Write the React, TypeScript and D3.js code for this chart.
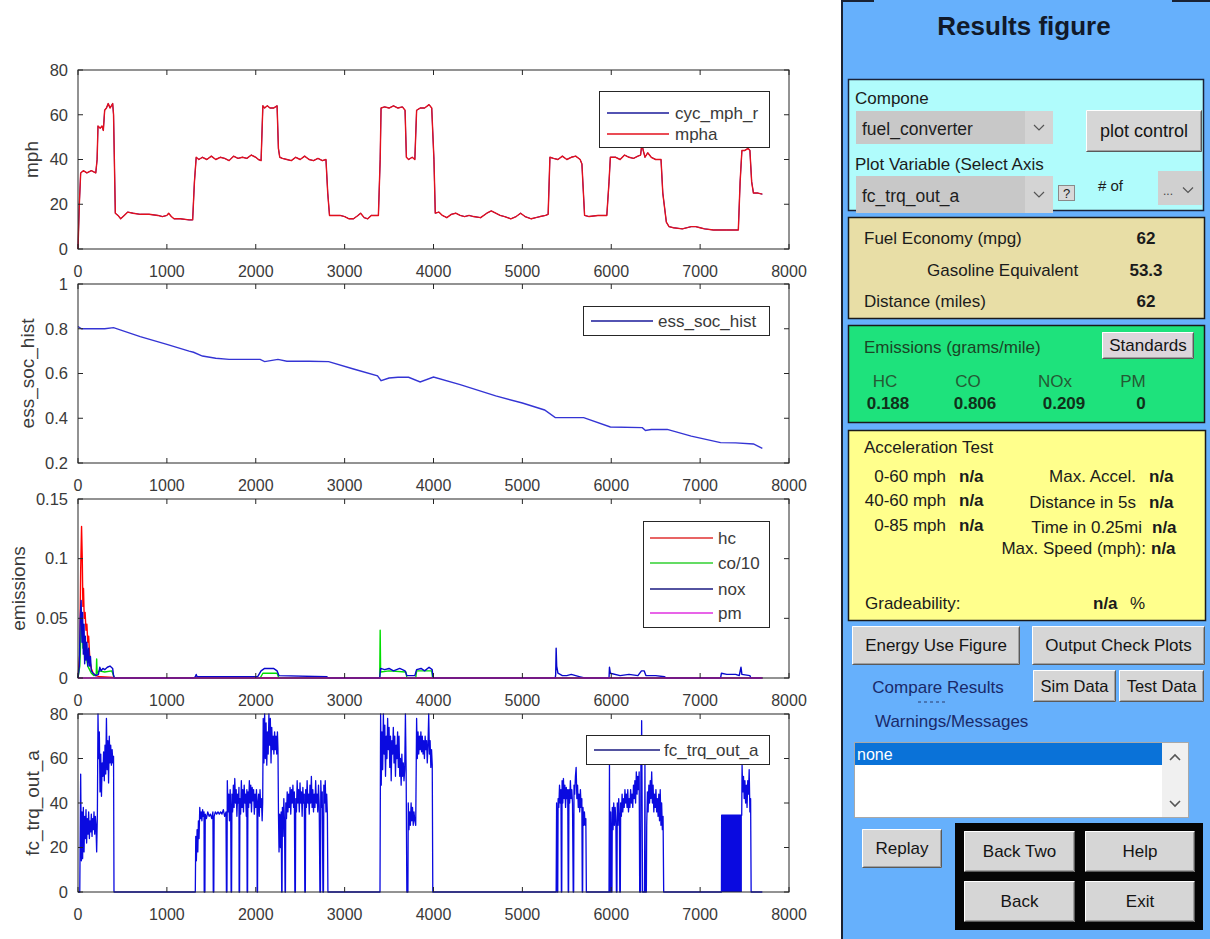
import React from "react";
import * as d3 from "d3";

type Pt = [number, number];

// ---------- tick values ----------
const xTickValues = [0, 1000, 2000, 3000, 4000, 5000, 6000, 7000, 8000];
const mphTicks = [0, 20, 40, 60, 80];
const socTicks = [0.2, 0.4, 0.6, 0.8, 1];
const emisTicks = [0, 0.05, 0.1, 0.15];
const trqTicks = [0, 20, 40, 60, 80];

// ---------- series (time s, value) ----------
const mpha: Pt[] = [
  [0,0],[15,20],[30,34],[60,35],[100,34],[150,35],[200,34],[215,40],[225,55],[250,54],[270,55],[285,53],[300,62],[320,63],[340,65],[360,63],[390,65],[400,60],[420,16],[450,15],[480,13.5],[520,15],[560,16.5],[620,16],[700,15.5],[800,15.5],[900,15],[950,14.5],[1000,15],[1020,16],[1050,14.5],[1080,13.5],[1150,13.5],[1250,13],[1290,13],[1310,30],[1330,41],[1360,40],[1400,41],[1450,40],[1500,41.5],[1550,40],[1600,41],[1650,40.5],[1700,39.5],[1750,41.5],[1800,40.5],[1850,41],[1900,40.5],[1950,42],[2000,41],[2030,40],[2060,39.5],[2080,64],[2100,63],[2130,64],[2160,63],[2200,63],[2240,64],[2255,45],[2270,41],[2300,40.5],[2350,40],[2400,39.5],[2450,41],[2500,40],[2550,41.5],[2600,40],[2650,39.5],[2700,40.5],[2750,39.5],[2790,40],[2810,25],[2830,15],[2900,15],[2950,15],[3000,14.5],[3050,13.5],[3100,13.5],[3150,15],[3180,16],[3220,14],[3260,13.5],[3300,15],[3380,15],[3400,40],[3410,63],[3450,63.5],[3500,63],[3550,64],[3600,63],[3650,63.5],[3680,62],[3695,41],[3720,40],[3760,41],[3790,40],[3810,62],[3850,63],[3900,63],[3950,64.5],[3980,63],[4005,40],[4020,16],[4060,16.5],[4100,15],[4150,14],[4200,15.5],[4250,16],[4300,15],[4350,14.5],[4400,15],[4450,14.5],[4530,14],[4600,16],[4650,17],[4700,16],[4750,15],[4800,14.5],[4870,13.5],[4930,14.5],[4980,16],[5030,14.5],[5100,13.5],[5150,14],[5200,14.5],[5260,15],[5290,15.5],[5310,41],[5350,40.5],[5400,40],[5450,41.5],[5500,40],[5550,41],[5600,41.5],[5650,40],[5670,38],[5700,15],[5750,14.5],[5850,15],[5950,15],[5975,30],[5990,41],[6050,41],[6100,40],[6150,42],[6200,41],[6250,40.5],[6300,41.5],[6330,42],[6345,47],[6360,44],[6380,41],[6410,43],[6450,41],[6500,40],[6560,40],[6580,25],[6620,12],[6650,10],[6700,9.5],[6800,9],[6900,10],[6950,10],[7000,9.5],[7050,9],[7150,8.5],[7300,8.5],[7430,8.5],[7450,30],[7470,44],[7500,44],[7540,45],[7560,44],[7580,30],[7600,25],[7650,25],[7700,24.5]
];
// the requested cycle speed coincides with the achieved speed in the picture
const cycMphR: Pt[] = mpha;

const essSocHist: Pt[] = [
  [0,0.81],[40,0.80],[200,0.80],[300,0.80],[400,0.805],[700,0.765],[1000,0.73],[1250,0.70],[1300,0.695],[1400,0.678],[1550,0.668],[1700,0.663],[2050,0.663],[2100,0.653],[2200,0.66],[2250,0.663],[2350,0.655],[2600,0.655],[2820,0.653],[3100,0.62],[3370,0.59],[3410,0.568],[3500,0.58],[3600,0.583],[3720,0.583],[3850,0.562],[4000,0.584],[4300,0.55],[4700,0.5],[5000,0.468],[5250,0.437],[5370,0.403],[5690,0.403],[5990,0.361],[6350,0.358],[6385,0.345],[6450,0.35],[6630,0.35],[6900,0.32],[7230,0.291],[7400,0.29],[7600,0.285],[7700,0.265]
];

const hc: Pt[] = [
  [0,0],[20,0.02],[30,0.09],[40,0.127],[48,0.1],[55,0.06],[62,0.075],[70,0.05],[80,0.055],[90,0.04],[100,0.045],[110,0.03],[120,0.035],[130,0.02],[140,0.012],[150,0.008],[170,0.004],[200,0.002],[250,0.001],[400,0.0005],[420,0],[7700,0]
];
const co10: Pt[] = [
  [0,0],[20,0.01],[35,0.04],[45,0.05],[55,0.025],[65,0.035],[75,0.015],[90,0.02],[110,0.01],[130,0.007],[150,0.004],[180,0.002],[205,0.003],[210,0.016],[215,0.004],[240,0.006],[300,0.005],[380,0.006],[410,0],[2050,0],[2080,0.004],[2240,0.004],[2260,0],[3395,0],[3400,0.04],[3405,0.005],[3500,0.006],[3690,0.005],[3700,0],[3800,0],[3810,0.006],[3980,0.006],[3990,0],[7700,0]
];
const nox: Pt[] = [
  [0,0],[15,0.01],[25,0.05],[35,0.065],[45,0.03],[52,0.055],[60,0.02],[68,0.045],[75,0.012],[82,0.035],[90,0.015],[100,0.03],[110,0.01],[120,0.025],[130,0.01],[140,0.018],[150,0.006],[170,0.004],[200,0.002],[230,0.003],[245,0.009],[260,0.006],[280,0.008],[300,0.007],[330,0.009],[360,0.01],[390,0.008],[400,0.002],[410,0],[1300,0],[1320,0.001],[1330,0.003],[1340,0.001],[2020,0.001],[2060,0.006],[2100,0.008],[2200,0.008],[2240,0.006],[2260,0.002],[2800,0.001],[2820,0],[3395,0],[3405,0.008],[3450,0.007],[3500,0.008],[3550,0.006],[3620,0.008],[3680,0.006],[3700,0.002],[3790,0.002],[3810,0.007],[3860,0.008],[3900,0.006],[3950,0.009],[3985,0.007],[3995,0],[5370,0],[5375,0.003],[5380,0.025],[5386,0.01],[5400,0.004],[5450,0.002],[5500,0.002],[5550,0.003],[5650,0.001],[5700,0],[5975,0],[5980,0.009],[5990,0.004],[6100,0.002],[6200,0.003],[6300,0.002],[6340,0.006],[6370,0.006],[6390,0.002],[6500,0.002],[6600,0.001],[6620,0],[7230,0],[7240,0.004],[7300,0.003],[7400,0.003],[7440,0.002],[7460,0.009],[7470,0.003],[7560,0.002],[7570,0],[7700,0]
];
const pm: Pt[] = [[0,0],[7700,0]];

const fcTrqOutA: Pt[] = [
  [0,0],[20,0],[30,53],[38,14],[45,36],[52,15],[60,38],[68,18],[75,34],[82,24],[90,37],[97,22],[105,33],[112,26],[120,36],[128,24],[135,32],[142,27],[150,35],[158,25],[165,33],[172,28],[180,36],[188,26],[195,34],[202,30],[210,18],[218,35],[225,80],[232,60],[240,72],[248,45],[256,62],[264,43],[272,58],[280,52],[288,63],[296,50],[304,66],[312,53],[320,78],[328,55],[336,68],[344,49],[352,70],[360,58],[368,66],[376,57],[384,64],[392,58],[400,61],[405,0],[1320,0],
  [1325,25],[1332,14],[1340,28],[1348,18],[1355,32],[1362,24],[1370,38],[1378,33],[1386,36],[1394,32],[1402,37],[1410,34],[1418,36],[1420,0],[1428,0],[1432,35],[1445,33],[1460,36],[1475,34],[1490,35],[1505,33],[1518,36],[1522,0],[1528,0],[1532,34],[1545,36],[1560,35],[1575,36],[1590,35],[1605,36],[1620,35],[1635,37],[1650,34],[1665,36],[1670,0],[1676,0],[1680,50],[1688,36],[1696,44],[1704,32],[1712,46],[1718,38],[1723,0],[1728,0],[1732,44],[1740,36],[1748,48],[1756,38],[1764,51],[1772,40],[1780,46],[1788,34],[1796,44],[1804,40],[1811,47],[1813,0],[1818,0],[1822,42],[1830,35],[1838,50],[1846,38],[1854,46],[1862,36],[1870,48],[1878,40],[1886,44],[1894,34],[1900,46],[1903,0],[1908,0],[1912,45],[1920,38],[1928,50],[1936,40],[1944,48],[1952,36],[1960,47],[1968,41],[1976,46],[1984,35],[1992,44],[2000,38],[2008,46],[2014,40],[2016,0],[2020,0],[2024,38],[2032,44],[2040,34],[2048,46],[2056,38],[2064,42],[2072,32],[2078,40],[2084,78],[2092,58],[2100,80],[2108,60],[2116,76],[2124,57],[2132,72],[2140,62],[2148,80],[2156,66],[2164,78],[2172,58],[2180,74],[2188,64],[2196,70],[2204,62],[2212,72],[2220,64],[2228,70],[2236,62],[2244,72],[2250,64],[2256,34],[2262,18],[2270,35],[2278,20],[2286,36],[2292,0],[2296,0],[2300,38],[2308,25],[2316,42],[2324,30],[2330,0],[2334,0],[2338,40],[2346,33],[2354,45],[2362,36],[2370,44],[2378,38],[2386,47],[2394,35],[2402,46],[2410,40],[2418,48],[2426,38],[2434,45],[2440,0],[2446,0],[2450,42],[2458,36],[2466,50],[2474,40],[2482,46],[2490,36],[2498,49],[2506,40],[2514,45],[2522,34],[2530,47],[2538,40],[2546,44],[2552,0],[2558,0],[2562,46],[2570,38],[2578,50],[2586,40],[2594,44],[2602,35],[2610,48],[2618,40],[2626,52],[2634,38],[2642,46],[2650,36],[2658,44],[2666,38],[2674,50],[2682,40],[2690,44],[2698,36],[2706,48],[2714,39],[2722,0],[2728,0],[2732,50],[2740,38],[2748,45],[2756,0],[2762,0],[2766,48],[2774,40],[2782,50],[2790,36],[2798,44],[2806,35],[2812,0],[3398,0],
  [3405,80],[3412,48],[3420,72],[3428,55],[3436,80],[3444,62],[3452,75],[3460,52],[3468,70],[3476,60],[3484,78],[3492,64],[3500,74],[3508,56],[3516,70],[3524,50],[3532,68],[3540,62],[3548,74],[3556,58],[3564,70],[3572,52],[3580,66],[3588,60],[3596,72],[3604,56],[3612,70],[3620,52],[3628,60],[3636,48],[3644,62],[3652,52],[3660,58],[3668,50],[3676,55],[3684,80],[3692,55],[3700,0],[3712,0],[3716,40],[3724,28],[3732,36],[3740,30],[3748,40],[3756,32],[3764,38],[3772,30],[3780,36],[3790,32],[3800,30],[3810,78],[3818,60],[3826,72],[3834,62],[3842,70],[3850,64],[3858,72],[3866,63],[3874,70],[3882,62],[3890,68],[3898,60],[3906,70],[3914,64],[3922,68],[3930,58],[3938,66],[3946,80],[3954,62],[3962,68],[3970,56],[3978,64],[3986,57],[3992,0],[5380,0],
  [5385,40],[5392,30],[5394,0],[5398,0],[5402,42],[5410,38],[5418,48],[5426,40],[5434,46],[5439,0],[5443,0],[5447,50],[5455,40],[5462,51],[5470,42],[5478,48],[5486,38],[5494,47],[5502,42],[5510,46],[5516,0],[5520,0],[5524,46],[5532,40],[5540,50],[5548,42],[5556,46],[5564,40],[5572,0],[5577,0],[5581,48],[5589,44],[5597,52],[5605,56],[5613,42],[5621,48],[5629,38],[5637,44],[5645,36],[5653,46],[5661,38],[5669,42],[5674,0],[5678,0],[5682,38],[5690,30],[5698,36],[5706,30],[5714,33],[5720,0],[5975,0],
  [5980,57],[5984,0],[5990,0],[5994,36],[5998,28],[6002,0],[6008,0],[6012,38],[6020,28],[6028,40],[6036,30],[6044,38],[6052,32],[6058,0],[6064,0],[6068,40],[6076,30],[6084,42],[6092,34],[6096,0],[6102,0],[6106,40],[6114,34],[6122,44],[6130,36],[6138,42],[6146,38],[6154,46],[6162,40],[6170,44],[6178,38],[6186,46],[6194,36],[6202,42],[6210,38],[6218,46],[6226,40],[6234,44],[6242,38],[6250,48],[6258,42],[6266,50],[6274,40],[6282,54],[6290,44],[6298,52],[6306,46],[6314,54],[6320,0],[6330,0],[6334,60],[6338,44],[6342,77],[6346,50],[6352,0],[6375,0],[6379,60],[6383,0],[6395,0],[6399,30],[6407,45],[6415,36],[6423,48],[6431,40],[6439,50],[6447,42],[6455,54],[6463,40],[6471,48],[6479,36],[6487,44],[6495,38],[6503,46],[6511,36],[6519,42],[6527,34],[6535,44],[6543,32],[6551,46],[6559,30],[6567,40],[6575,28],[6583,34],[6590,0],[7240,0],
  [7242,34.5],[7468,34.5],[7472,57],[7480,45],[7488,52],[7496,42],[7504,50],[7512,40],[7520,48],[7528,38],[7536,50],[7544,44],[7552,55],[7560,36],[7568,42],[7574,0],[7700,0]
];
// fast on/off chatter of the torque signal (drawn as a filled band)
const fcTrqChatter: Pt[] = [[7240,34.5],[7470,34.5]];

// ---------- layout ----------
const FONT = "'Liberation Sans', Arial, Helvetica, sans-serif";
const X0 = 78, X1 = 789;
const x = d3.scaleLinear().domain([0, 8000]).range([X0, X1]);
const TXT = "#3a3a3a";
const AX = "#262626";
const PF = 17; // panel font size

type Entry = { label: string; color: string };

function Axes(props: {
  top: number; bottom: number; domain: [number, number]; ticks: number[];
  label: string; labelX: number; children: (y: d3.ScaleLinear<number, number>) => React.ReactNode;
  legend: { x0: number; x1: number; y0: number; y1: number; lx0: number; lx1: number; tx: number; rows: number[]; entries: Entry[] };
}) {
  const { top, bottom, domain, ticks, label, labelX, children, legend } = props;
  const y = d3.scaleLinear().domain(domain).range([bottom, top]);
  const tl = 5;
  return (
    <g>
      <rect x={X0} y={top} width={X1 - X0} height={bottom - top} fill="#fff" />
      {children(y)}
      <rect x={X0} y={top} width={X1 - X0} height={bottom - top} fill="none" stroke={AX} strokeWidth={1} />
      {xTickValues.map((v) => (
        <g key={"x" + v}>
          <line x1={x(v)} x2={x(v)} y1={bottom} y2={bottom - tl} stroke={AX} />
          <line x1={x(v)} x2={x(v)} y1={top} y2={top + tl} stroke={AX} />
          <text x={x(v)} y={bottom + 22} textAnchor="middle" dy="0.35em" fontSize={16} fill={TXT}>{v}</text>
        </g>
      ))}
      {ticks.map((v) => (
        <g key={"y" + v}>
          <line x1={X0} x2={X0 + tl} y1={y(v)} y2={y(v)} stroke={AX} />
          <line x1={X1} x2={X1 - tl} y1={y(v)} y2={y(v)} stroke={AX} />
          <text x={68} y={y(v)} textAnchor="end" dy="0.35em" fontSize={16.5} fill={TXT}>{String(v)}</text>
        </g>
      ))}
      <text transform={`translate(${labelX},${(top + bottom) / 2}) rotate(-90)`} textAnchor="middle" dy="0.35em" fontSize={19} fill={TXT}>{label}</text>
      <rect x={legend.x0} y={legend.y0} width={legend.x1 - legend.x0} height={legend.y1 - legend.y0} fill="#fff" stroke={AX} strokeWidth={1} />
      {legend.entries.map((e, i) => (
        <g key={e.label}>
          <line x1={legend.lx0} x2={legend.lx1} y1={legend.rows[i]} y2={legend.rows[i]} stroke={e.color} strokeWidth={1.3} />
          <text x={legend.tx} y={legend.rows[i]} dy="0.35em" fontSize={17} fill={TXT}>{e.label}</text>
        </g>
      ))}
    </g>
  );
}

function lineFor(y: d3.ScaleLinear<number, number>) {
  return d3.line<Pt>().x((d) => x(d[0])).y((d) => y(d[1]));
}

function Btn({ x: bx, y: by, w, h, label, fill = "#d6d6d6", fs = 17 }: { x: number; y: number; w: number; h: number; label: string; fill?: string; fs?: number }) {
  return (
    <g>
      <rect x={bx} y={by} width={w} height={h} fill={fill} />
      <path d={`M${bx + 0.5},${by + h - 1}V${by + 0.5}H${bx + w - 1}`} stroke="#ffffff" fill="none" />
      <path d={`M${bx + 0.5},${by + h - 0.5}H${bx + w - 0.5}V${by + 0.5}`} stroke="#5a5a5a" fill="none" />
      <path d={`M${bx + 1.5},${by + h - 1.5}H${bx + w - 1.5}V${by + 1.5}`} stroke="#a0a0a0" fill="none" />
      <text x={bx + w / 2} y={by + h / 2} textAnchor="middle" dy="0.35em" fontSize={fs} fill="#141414">{label}</text>
    </g>
  );
}

function Drop({ x: dx, y: dy, w, h, label, aw = 28 }: { x: number; y: number; w: number; h: number; label: string; aw?: number }) {
  const cx = dx + w - aw / 2, cy = dy + h / 2;
  return (
    <g>
      <rect x={dx} y={dy} width={w} height={h} fill="#c8c8c8" />
      <rect x={dx + w - aw} y={dy} width={aw} height={h} fill="#d4d4d4" />
      <text x={dx + 6} y={cy + 1} dy="0.35em" fontSize={17.5} fill="#1e1e1e">{label}</text>
      <path d={`M${cx - 5},${cy - 2.5}L${cx},${cy + 2.5}L${cx + 5},${cy - 2.5}`} stroke="#555" strokeWidth={1.2} fill="none" />
    </g>
  );
}

function Panel() {
  const dark = "#1b1b1b";
  return (
    <g fontFamily={FONT}>
      <rect x={841} y={0} width={369} height={939} fill="#66b0fc" />
      <line x1={842} x2={842} y1={0} y2={939} stroke="#1a2233" strokeWidth={2} />
      <line x1={841} x2={874} y1={1} y2={1} stroke="#1a2233" strokeWidth={2} />
      <line x1={1172} x2={1210} y1={1} y2={1} stroke="#1a2233" strokeWidth={2} />
      <text x={1024} y={26} textAnchor="middle" dy="0.35em" fontSize={26} fontWeight="bold" fill="#111a2a">Results figure</text>

      {/* cyan selection box */}
      <rect x={848.5} y={79.5} width={355} height={131} fill="#b0fcfc" stroke="#1a2238" strokeWidth={1.5} />
      <text x={855} y={98} dy="0.35em" fontSize={PF} fill={dark}>Compone</text>
      <Drop x={856} y={111} w={197} h={33} label="fuel_converter" />
      <Btn x={1086} y={110} w={116} h={42} label="plot control" fs={18} />
      <text x={855} y={164} dy="0.35em" fontSize={PF} fill={dark}>Plot Variable (Select Axis</text>
      <Drop x={856} y={176} w={197} h={37} label="fc_trq_out_a" />
      <rect x={1058.5} y={185.5} width={16} height={15} fill="#d8d8d8" stroke="#8a8a8a" />
      <text x={1066.5} y={193} textAnchor="middle" dy="0.35em" fontSize={13} fill="#222">?</text>
      <text x={1098} y={186} dy="0.35em" fontSize={15} fill={dark}># of</text>
      <g>
        <rect x={1158} y={171} width={44} height={34} fill="#d0d0d0" />
        <text x={1163} y={191} dy="0.35em" fontSize={12} fill="#444">...</text>
        <path d={`M1183,187.5L1188,192.5L1193,187.5`} stroke="#555" strokeWidth={1.2} fill="none" />
      </g>

      {/* fuel economy box */}
      <rect x={848.5} y={217.5} width={356} height={101} fill="#e8dea6" stroke="#1a1a1a" strokeWidth={1.5} />
      <text x={864} y={238} dy="0.35em" fontSize={PF} fill={dark}>Fuel Economy (mpg)</text>
      <text x={1146} y={238} textAnchor="middle" dy="0.35em" fontSize={PF} fontWeight="bold" fill={dark}>62</text>
      <text x={927} y={270} dy="0.35em" fontSize={PF} fill={dark}>Gasoline Equivalent</text>
      <text x={1146} y={270} textAnchor="middle" dy="0.35em" fontSize={PF} fontWeight="bold" fill={dark}>53.3</text>
      <text x={864} y={301} dy="0.35em" fontSize={PF} fill={dark}>Distance (miles)</text>
      <text x={1146} y={301} textAnchor="middle" dy="0.35em" fontSize={PF} fontWeight="bold" fill={dark}>62</text>

      {/* emissions box */}
      <rect x={848.5} y={325.5} width={356} height={97} fill="#1ee27c" stroke="#1a1a1a" strokeWidth={1.5} />
      <text x={864} y={347} dy="0.35em" fontSize={PF} fill="#1b4526">Emissions (grams/mile)</text>
      <Btn x={1102} y={332} w={92} h={27} label="Standards" fill="#ddd6dc" />
      {[["HC", 885], ["CO", 968], ["NOx", 1055], ["PM", 1133]].map(([t, cx]) => (
        <text key={t as string} x={cx as number} y={381} textAnchor="middle" dy="0.35em" fontSize={PF} fill="#245a34">{t}</text>
      ))}
      {[["0.188", 888], ["0.806", 975], ["0.209", 1064], ["0", 1141]].map(([t, cx]) => (
        <text key={t as string} x={cx as number} y={403} textAnchor="middle" dy="0.35em" fontSize={PF} fontWeight="bold" fill="#10301a">{t}</text>
      ))}

      {/* acceleration box */}
      <rect x={848.5} y={430.5} width={357} height={190} fill="#ffff8c" stroke="#1a1a1a" strokeWidth={1.5} />
      <text x={864} y={447} dy="0.35em" fontSize={PF} fill={dark}>Acceleration Test</text>
      {[["0-60 mph", 476], ["40-60 mph", 500], ["0-85 mph", 525]].map(([t, cy]) => (
        <g key={t as string}>
          <text x={946} y={cy as number} textAnchor="end" dy="0.35em" fontSize={PF} fill={dark}>{t}</text>
          <text x={959} y={cy as number} dy="0.35em" fontSize={PF} fontWeight="bold" fill={dark}>n/a</text>
        </g>
      ))}
      {[["Max. Accel.", 476, 1136, 1149], ["Distance in 5s", 502, 1136, 1149], ["Time in 0.25mi", 527, 1142, 1152], ["Max. Speed (mph):", 548, 1146, 1151]].map(([t, cy, ex, nx]) => (
        <g key={t as string}>
          <text x={ex as number} y={cy as number} textAnchor="end" dy="0.35em" fontSize={PF} fill={dark}>{t}</text>
          <text x={nx as number} y={cy as number} dy="0.35em" fontSize={PF} fontWeight="bold" fill={dark}>n/a</text>
        </g>
      ))}
      <text x={865} y={603} dy="0.35em" fontSize={PF} fill={dark}>Gradeability:</text>
      <text x={1093} y={603} dy="0.35em" fontSize={PF} fontWeight="bold" fill={dark}>n/a</text>
      <text x={1130} y={603} dy="0.35em" fontSize={PF} fill={dark}>%</text>

      <Btn x={852} y={626} w={168} h={39} label="Energy Use Figure" />
      <Btn x={1032} y={626} w={173} h={39} label="Output Check Plots" />
      <text x={938} y={687} textAnchor="middle" dy="0.35em" fontSize={PF} fill="#1a2a6a">Compare Results</text>
      <line x1={918} x2={947} y1={702} y2={702} stroke="#2a3a6a" strokeWidth={1} strokeDasharray="3,3" />
      <Btn x={1033} y={670} w={83} h={32} label="Sim Data" fs={16.5} />
      <Btn x={1119} y={670} w={85} h={32} label="Test Data" fs={16.5} />
      <text x={875} y={721} dy="0.35em" fontSize={PF} fill="#1a2a6a">Warnings/Messages</text>

      {/* message list */}
      <rect x={854.5} y={742.5} width={334} height={75} fill="#fff" stroke="#a8a8a8" />
      <rect x={855} y={743} width={307} height={22} fill="#0a72d8" />
      <text x={857} y={754} dy="0.35em" fontSize={16} fill="#fff">none</text>
      <rect x={1162} y={743} width={26} height={74} fill="#f0f0f0" />
      <path d="M1170,760L1175,755L1180,760" stroke="#555" strokeWidth={1.6} fill="none" />
      <path d="M1170,801L1175,806L1180,801" stroke="#555" strokeWidth={1.6} fill="none" />

      <Btn x={862} y={829} w={80} h={39} label="Replay" />
      <rect x={955} y={823} width={248} height={107} fill="#050505" />
      <Btn x={964} y={831} w={111} h={41} label="Back Two" />
      <Btn x={1085} y={831} w={110} h={41} label="Help" />
      <Btn x={964} y={881} w={111} h={41} label="Back" />
      <Btn x={1085} y={881} w={110} h={41} label="Exit" />
    </g>
  );
}

export default function App() {
  const BLUE = "#0a0ad0";
  const RED = "#e3101c";
  return (
    <div style={{ position: "absolute", left: 0, top: 0 }}>
      <svg width={1210} height={939} fontFamily={FONT} style={{ display: "block" }}>
        <rect x={0} y={0} width={1210} height={939} fill="#fff" />
        <Axes top={70} bottom={249} domain={[0, 80]} ticks={mphTicks} label="mph" labelX={31}
          legend={{ x0: 599.5, x1: 769.5, y0: 91.5, y1: 147.5, lx0: 607, lx1: 669, tx: 675, rows: [113, 134],
            entries: [{ label: "cyc_mph_r", color: "#1a1a9a" }, { label: "mpha", color: RED }] }}>
          {(y) => (
            <g fill="none" strokeLinejoin="round">
              <path d={lineFor(y)(cycMphR) || ""} stroke={BLUE} strokeWidth={1.0} />
              <path d={lineFor(y)(mpha) || ""} stroke={RED} strokeWidth={1.4} />
            </g>
          )}
        </Axes>
        <Axes top={284} bottom={463} domain={[0.2, 1]} ticks={socTicks} label="ess_soc_hist" labelX={27}
          legend={{ x0: 583.5, x1: 769.5, y0: 306.5, y1: 335.5, lx0: 591, lx1: 653, tx: 658, rows: [321],
            entries: [{ label: "ess_soc_hist", color: "#1a1a9a" }] }}>
          {(y) => <path d={lineFor(y)(essSocHist) || ""} fill="none" stroke="#3434d4" strokeWidth={1.4} />}
        </Axes>
        <Axes top={499} bottom={678} domain={[0, 0.15]} ticks={emisTicks} label="emissions" labelX={18}
          legend={{ x0: 643.5, x1: 769.5, y0: 521.5, y1: 627.5, lx0: 650, lx1: 713, tx: 718, rows: [538, 563, 589, 613],
            entries: [{ label: "hc", color: "#e03030" }, { label: "co/10", color: "#30d030" }, { label: "nox", color: "#1a1a80" }, { label: "pm", color: "#e030e0" }] }}>
          {(y) => (
            <g fill="none" strokeWidth={1.4} strokeLinejoin="round">
              <path d={lineFor(y)(hc) || ""} stroke="#ff0000" />
              <path d={lineFor(y)(co10) || ""} stroke="#00dd00" />
              <path d={lineFor(y)(nox) || ""} stroke="#0808cc" />
              <path d={lineFor(y)(pm) || ""} stroke="#ff00ff" />
            </g>
          )}
        </Axes>
        <Axes top={714} bottom={892} domain={[0, 80]} ticks={trqTicks} label="fc_trq_out_a" labelX={32}
          legend={{ x0: 586.5, x1: 769.5, y0: 735.5, y1: 764.5, lx0: 594, lx1: 660, tx: 664, rows: [750],
            entries: [{ label: "fc_trq_out_a", color: "#1a1a80" }] }}>
          {(y) => (
            <g>
              <path d={d3.area<Pt>().x((d) => x(d[0])).y0(y(0)).y1((d) => y(d[1]))(fcTrqChatter) || ""} fill="#0a0ae0" />
              <path d={lineFor(y)(fcTrqOutA) || ""} fill="none" stroke="#0a0ae0" strokeWidth={1.3} strokeLinejoin="round" />
            </g>
          )}
        </Axes>
        <Panel />
      </svg>
    </div>
  );
}
